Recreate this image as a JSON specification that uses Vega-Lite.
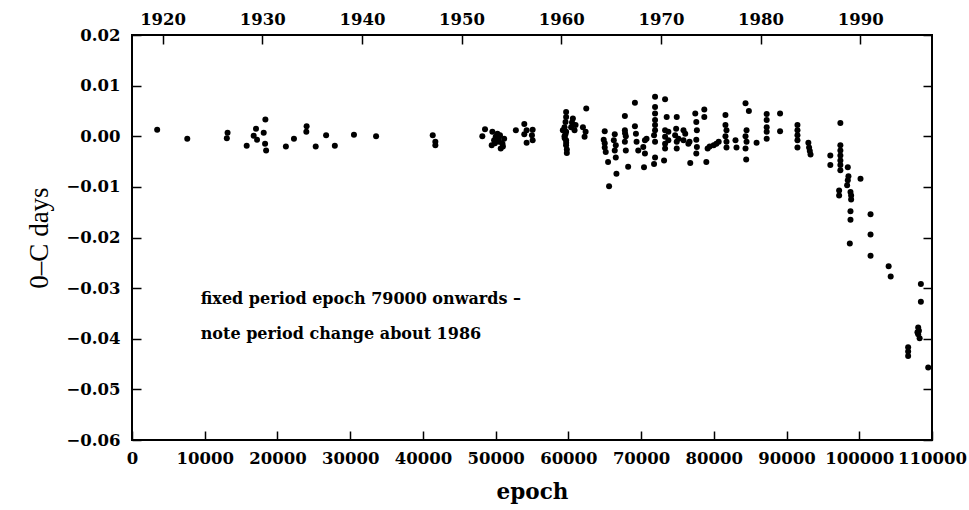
{
  "$schema": "https://vega.github.io/schema/vega-lite/v6.json",
  "width": 800,
  "height": 405,
  "autosize": {"type": "none"},
  "padding": {"left": 132, "top": 35, "right": 37, "bottom": 70},
  "background": "white",
  "config": {
    "view": {"stroke": "black", "strokeWidth": 2},
    "font": "DejaVu Serif",
    "axis": {
      "domain": false,
      "grid": false,
      "tickColor": "black",
      "tickWidth": 1.5,
      "tickSize": -9,
      "labelColor": "black",
      "labelFont": "DejaVu Serif",
      "labelFontSize": 16.5,
      "labelFontWeight": "bold",
      "labelOverlap": false,
      "labelBound": false,
      "labelFlush": false,
      "titleFont": "DejaVu Serif",
      "titleColor": "black",
      "titleFontWeight": "bold"
    }
  },
  "datasets": {
    "timings": [
      {"epoch": 3460, "oc": 0.0013}, {"epoch": 7600, "oc": -0.0005},
      {"epoch": 13140, "oc": 0.0007}, {"epoch": 13040, "oc": -0.0004},
      {"epoch": 15770, "oc": -0.0019}, {"epoch": 17050, "oc": 0.0015},
      {"epoch": 16730, "oc": 0.0001}, {"epoch": 17190, "oc": -0.0007},
      {"epoch": 18110, "oc": 0.0007}, {"epoch": 18340, "oc": 0.0033},
      {"epoch": 18300, "oc": -0.0015}, {"epoch": 18440, "oc": -0.0028},
      {"epoch": 21160, "oc": -0.0020}, {"epoch": 22270, "oc": -0.0005},
      {"epoch": 24010, "oc": 0.0020}, {"epoch": 23970, "oc": 0.0009},
      {"epoch": 25260, "oc": -0.0020}, {"epoch": 26690, "oc": 0.0002},
      {"epoch": 27890, "oc": -0.0019}, {"epoch": 30520, "oc": 0.0003},
      {"epoch": 33560, "oc": 0.0000},
      {"epoch": 41350, "oc": 0.0002}, {"epoch": 41710, "oc": -0.0011},
      {"epoch": 41710, "oc": -0.0018},
      {"epoch": 48540, "oc": 0.0014}, {"epoch": 48170, "oc": 0.0000},
      {"epoch": 49550, "oc": 0.0009}, {"epoch": 50010, "oc": -0.0001},
      {"epoch": 50480, "oc": -0.0011}, {"epoch": 50700, "oc": -0.0024},
      {"epoch": 49460, "oc": -0.0018}, {"epoch": 51170, "oc": -0.0005},
      {"epoch": 50250, "oc": 0.0005}, {"epoch": 49790, "oc": -0.0008},
      {"epoch": 50940, "oc": -0.0015}, {"epoch": 50600, "oc": 0.0002},
      {"epoch": 51000, "oc": -0.0020}, {"epoch": 49900, "oc": -0.0014},
      {"epoch": 50400, "oc": -0.0004},
      {"epoch": 52780, "oc": 0.0012}, {"epoch": 53940, "oc": 0.0024},
      {"epoch": 54260, "oc": 0.0012}, {"epoch": 53940, "oc": 0.0004},
      {"epoch": 55090, "oc": 0.0013}, {"epoch": 54990, "oc": 0.0002},
      {"epoch": 55090, "oc": -0.0008}, {"epoch": 54260, "oc": -0.0013},
      {"epoch": 59690, "oc": 0.0048}, {"epoch": 59690, "oc": 0.0038},
      {"epoch": 59610, "oc": 0.0028}, {"epoch": 59470, "oc": 0.0018},
      {"epoch": 59240, "oc": 0.0012}, {"epoch": 59690, "oc": 0.0009},
      {"epoch": 59470, "oc": 0.0000}, {"epoch": 59690, "oc": -0.0008},
      {"epoch": 59690, "oc": -0.0018}, {"epoch": 59790, "oc": -0.0026},
      {"epoch": 59790, "oc": -0.0033}, {"epoch": 59600, "oc": 0.0004},
      {"epoch": 59500, "oc": -0.0004}, {"epoch": 59700, "oc": -0.0013},
      {"epoch": 60620, "oc": 0.0035}, {"epoch": 60990, "oc": 0.0022},
      {"epoch": 60380, "oc": 0.0018}, {"epoch": 60850, "oc": 0.0012},
      {"epoch": 60500, "oc": 0.0027}, {"epoch": 62460, "oc": 0.0055},
      {"epoch": 62000, "oc": 0.0018}, {"epoch": 62370, "oc": 0.0009},
      {"epoch": 62230, "oc": -0.0001},
      {"epoch": 65000, "oc": 0.0010}, {"epoch": 64860, "oc": -0.0007},
      {"epoch": 65000, "oc": -0.0022}, {"epoch": 65140, "oc": -0.0031},
      {"epoch": 65000, "oc": -0.0014}, {"epoch": 65460, "oc": -0.0051},
      {"epoch": 65600, "oc": -0.0099}, {"epoch": 66380, "oc": 0.0004},
      {"epoch": 66250, "oc": -0.0008}, {"epoch": 66520, "oc": -0.0018},
      {"epoch": 66380, "oc": -0.0028}, {"epoch": 66520, "oc": -0.0042},
      {"epoch": 66610, "oc": -0.0074}, {"epoch": 67770, "oc": 0.0040},
      {"epoch": 67770, "oc": 0.0012}, {"epoch": 67900, "oc": 0.0000},
      {"epoch": 67770, "oc": -0.0011}, {"epoch": 67900, "oc": -0.0028},
      {"epoch": 67800, "oc": 0.0006}, {"epoch": 68220, "oc": -0.0060},
      {"epoch": 69150, "oc": 0.0066}, {"epoch": 69150, "oc": 0.0020},
      {"epoch": 69290, "oc": 0.0005}, {"epoch": 69380, "oc": -0.0011},
      {"epoch": 69610, "oc": -0.0028}, {"epoch": 70530, "oc": -0.0008},
      {"epoch": 70300, "oc": -0.0021}, {"epoch": 70530, "oc": -0.0034},
      {"epoch": 70400, "oc": -0.0061}, {"epoch": 70750, "oc": -0.0005},
      {"epoch": 71920, "oc": 0.0078}, {"epoch": 71920, "oc": 0.0058},
      {"epoch": 71920, "oc": 0.0045}, {"epoch": 71920, "oc": 0.0032},
      {"epoch": 71920, "oc": 0.0022}, {"epoch": 71920, "oc": 0.0012},
      {"epoch": 71780, "oc": 0.0002}, {"epoch": 71920, "oc": -0.0011},
      {"epoch": 71920, "oc": -0.0042}, {"epoch": 71780, "oc": -0.0055},
      {"epoch": 73300, "oc": 0.0073}, {"epoch": 73160, "oc": -0.0048},
      {"epoch": 73300, "oc": 0.0012}, {"epoch": 73300, "oc": -0.0001},
      {"epoch": 73300, "oc": -0.0015}, {"epoch": 73300, "oc": -0.0024},
      {"epoch": 73520, "oc": 0.0038}, {"epoch": 73750, "oc": 0.0009},
      {"epoch": 73750, "oc": -0.0008}, {"epoch": 74900, "oc": 0.0038},
      {"epoch": 74820, "oc": 0.0015}, {"epoch": 74680, "oc": 0.0002},
      {"epoch": 74900, "oc": -0.0011}, {"epoch": 74900, "oc": -0.0024},
      {"epoch": 75140, "oc": -0.0005}, {"epoch": 75830, "oc": 0.0012},
      {"epoch": 76070, "oc": 0.0005}, {"epoch": 75830, "oc": -0.0008},
      {"epoch": 76660, "oc": -0.0011}, {"epoch": 76760, "oc": -0.0053},
      {"epoch": 76500, "oc": -0.0015}, {"epoch": 77450, "oc": 0.0045},
      {"epoch": 77590, "oc": 0.0028}, {"epoch": 77670, "oc": 0.0012},
      {"epoch": 77590, "oc": -0.0007}, {"epoch": 77670, "oc": -0.0021},
      {"epoch": 77590, "oc": -0.0034}, {"epoch": 78690, "oc": 0.0053},
      {"epoch": 78690, "oc": 0.0038}, {"epoch": 78970, "oc": -0.0051},
      {"epoch": 79150, "oc": -0.0024}, {"epoch": 79430, "oc": -0.0020},
      {"epoch": 79980, "oc": -0.0018}, {"epoch": 80350, "oc": -0.0015},
      {"epoch": 80670, "oc": -0.0011}, {"epoch": 81600, "oc": 0.0042},
      {"epoch": 81600, "oc": 0.0022}, {"epoch": 81740, "oc": 0.0012},
      {"epoch": 81600, "oc": 0.0000}, {"epoch": 81740, "oc": -0.0011},
      {"epoch": 81740, "oc": -0.0022}, {"epoch": 82980, "oc": -0.0008},
      {"epoch": 83120, "oc": -0.0022}, {"epoch": 84360, "oc": 0.0065},
      {"epoch": 84820, "oc": 0.0050}, {"epoch": 84500, "oc": 0.0012},
      {"epoch": 84360, "oc": 0.0000}, {"epoch": 84500, "oc": -0.0011},
      {"epoch": 84360, "oc": -0.0024}, {"epoch": 84450, "oc": -0.0046},
      {"epoch": 85880, "oc": -0.0013}, {"epoch": 87270, "oc": 0.0044},
      {"epoch": 87270, "oc": 0.0032}, {"epoch": 87270, "oc": 0.0018},
      {"epoch": 87270, "oc": 0.0009}, {"epoch": 87270, "oc": -0.0005},
      {"epoch": 89110, "oc": 0.0045}, {"epoch": 89110, "oc": 0.0010},
      {"epoch": 91500, "oc": 0.0022}, {"epoch": 91500, "oc": 0.0012},
      {"epoch": 91500, "oc": 0.0002}, {"epoch": 91500, "oc": -0.0008},
      {"epoch": 91500, "oc": -0.0022}, {"epoch": 93000, "oc": -0.0013},
      {"epoch": 93100, "oc": -0.0022}, {"epoch": 93200, "oc": -0.0029},
      {"epoch": 93300, "oc": -0.0036},
      {"epoch": 96020, "oc": -0.0038}, {"epoch": 96020, "oc": -0.0057},
      {"epoch": 97400, "oc": 0.0026}, {"epoch": 97400, "oc": -0.0018},
      {"epoch": 97400, "oc": -0.0028}, {"epoch": 97400, "oc": -0.0038},
      {"epoch": 97400, "oc": -0.0048}, {"epoch": 97400, "oc": -0.0057},
      {"epoch": 97400, "oc": -0.0067}, {"epoch": 97230, "oc": -0.0107},
      {"epoch": 97230, "oc": -0.0117}, {"epoch": 98420, "oc": -0.0061},
      {"epoch": 98510, "oc": -0.0079}, {"epoch": 98420, "oc": -0.0087},
      {"epoch": 98330, "oc": -0.0097}, {"epoch": 100170, "oc": -0.0084},
      {"epoch": 98790, "oc": -0.0110}, {"epoch": 98880, "oc": -0.0117},
      {"epoch": 98880, "oc": -0.0125}, {"epoch": 98790, "oc": -0.0148},
      {"epoch": 98790, "oc": -0.0165}, {"epoch": 98700, "oc": -0.0212},
      {"epoch": 101550, "oc": -0.0154}, {"epoch": 101550, "oc": -0.0194},
      {"epoch": 101550, "oc": -0.0236}, {"epoch": 104040, "oc": -0.0257},
      {"epoch": 104320, "oc": -0.0277}, {"epoch": 108470, "oc": -0.0292},
      {"epoch": 108470, "oc": -0.0327}, {"epoch": 108100, "oc": -0.0378},
      {"epoch": 108200, "oc": -0.0384}, {"epoch": 108100, "oc": -0.0391},
      {"epoch": 108300, "oc": -0.0399}, {"epoch": 108000, "oc": -0.0387},
      {"epoch": 106720, "oc": -0.0417}, {"epoch": 106720, "oc": -0.0425},
      {"epoch": 106720, "oc": -0.0434}, {"epoch": 109480, "oc": -0.0457}
    ],
    "note": [
      {"epoch": 9450, "oc": -0.0321, "line": "fixed period epoch 79000 onwards –"},
      {"epoch": 9450, "oc": -0.0390, "line": "note period change about 1986"}
    ],
    "years": [
      {"year": 1920}, {"year": 1930}, {"year": 1940}, {"year": 1950},
      {"year": 1960}, {"year": 1970}, {"year": 1980}, {"year": 1990}
    ]
  },
  "layer": [
    {
      "data": {"name": "timings"},
      "mark": {"type": "point", "filled": true, "size": 36, "color": "black", "opacity": 1},
      "encoding": {
        "x": {
          "field": "epoch", "type": "quantitative",
          "scale": {"domain": [0, 110000], "nice": false, "zero": false},
          "axis": {
            "orient": "bottom",
            "values": [0, 10000, 20000, 30000, 40000, 50000, 60000, 70000, 80000, 90000, 100000, 110000],
            "format": "d",
            "labelPadding": 19,
            "title": "epoch",
            "titleFontSize": 21.5,
            "titlePadding": 15
          }
        },
        "y": {
          "field": "oc", "type": "quantitative",
          "scale": {"domain": [-0.06, 0.02], "nice": false, "zero": false},
          "axis": {
            "orient": "left",
            "values": [-0.06, -0.05, -0.04, -0.03, -0.02, -0.01, 0, 0.01, 0.02],
            "format": ".2f",
            "labelPadding": 21,
            "title": "0–C days",
            "titleFont": "Liberation Serif",
            "titleFontWeight": "normal",
            "titleFontSize": 27,
            "titlePadding": 12
          }
        }
      }
    },
    {
      "data": {"name": "note"},
      "mark": {"type": "text", "align": "left", "baseline": "middle", "font": "DejaVu Serif", "fontWeight": "bold", "fontSize": 16, "color": "black"},
      "encoding": {
        "x": {"field": "epoch", "type": "quantitative", "scale": {"domain": [0, 110000], "nice": false, "zero": false}, "axis": null},
        "y": {
          "field": "oc", "type": "quantitative",
          "scale": {"domain": [-0.06, 0.02], "nice": false, "zero": false},
          "axis": {"orient": "right", "values": [-0.06, -0.05, -0.04, -0.03, -0.02, -0.01, 0, 0.01, 0.02], "labels": false, "title": null}
        },
        "text": {"field": "line", "type": "nominal"}
      }
    },
    {
      "data": {"name": "years"},
      "mark": {"type": "point", "opacity": 0},
      "encoding": {
        "x": {
          "field": "year", "type": "quantitative",
          "scale": {"domain": [1916.93, 1997.2], "nice": false, "zero": false},
          "axis": {
            "orient": "top",
            "values": [1920, 1930, 1940, 1950, 1960, 1970, 1980, 1990],
            "format": "d",
            "labelPadding": 17,
            "title": null
          }
        }
      }
    }
  ],
  "resolve": {
    "scale": {"x": "independent"},
    "axis": {"x": "independent", "y": "independent"}
  }
}
